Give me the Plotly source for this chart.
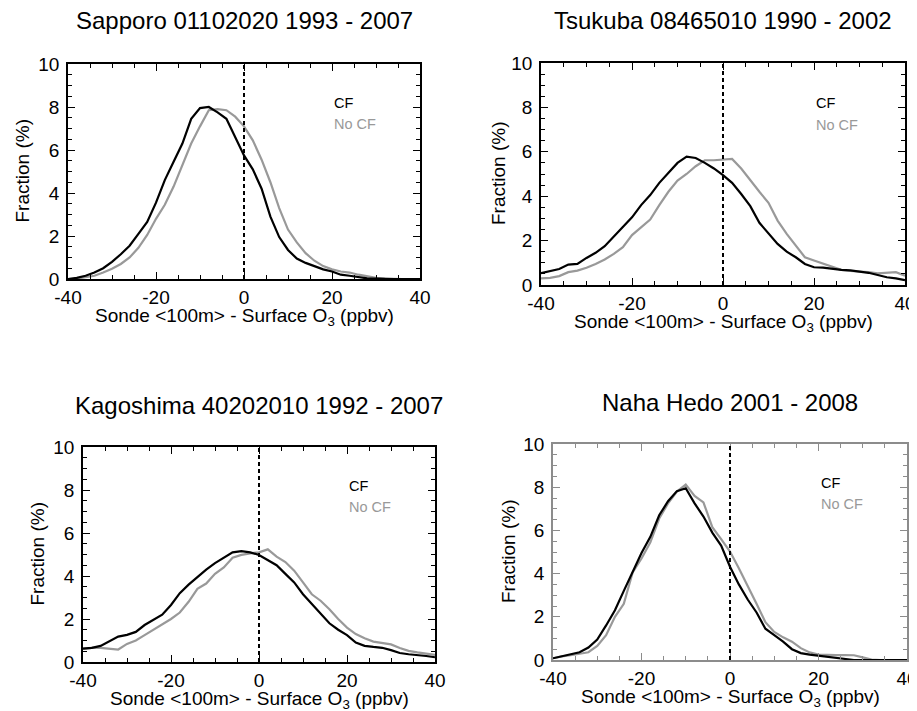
import plotly.graph_objects as go

# ---------------- data ----------------
x_bins = list(range(-40, 41, 2))

sapporo_cf = [0.0, 0.05, 0.15, 0.3, 0.5, 0.8, 1.15, 1.55, 2.1, 2.65, 3.55, 4.6, 5.45, 6.3, 7.45, 7.95,
              8.0, 7.75, 7.45, 6.6, 5.75, 5.1, 4.2, 2.9, 1.95, 1.35, 0.95, 0.75, 0.6, 0.45, 0.35, 0.2,
              0.15, 0.08, 0.03, 0.02, 0.0, 0.0, 0.0, 0.0, 0.0]
sapporo_nocf = [0.0, 0.02, 0.08, 0.15, 0.3, 0.48, 0.7, 1.0, 1.45, 2.05, 2.8, 3.45, 4.3, 5.3, 6.3, 7.1,
                7.85, 7.9, 7.85, 7.55, 7.1, 6.45, 5.55, 4.5, 3.3, 2.3, 1.7, 1.2, 0.85, 0.6, 0.45, 0.35,
                0.3, 0.2, 0.12, 0.05, 0.02, 0.0, 0.0, 0.0, 0.0]

tsukuba_cf = [0.53, 0.62, 0.72, 0.92, 0.95, 1.22, 1.45, 1.75, 2.2, 2.65, 3.05, 3.6, 4.05, 4.6, 5.05,
              5.5, 5.78, 5.72, 5.5, 5.25, 4.95, 4.6, 4.1, 3.55, 2.8, 2.3, 1.85, 1.5, 1.25, 0.95, 0.8,
              0.78, 0.72, 0.68, 0.66, 0.62, 0.55, 0.45, 0.35, 0.3, 0.22]
tsukuba_nocf = [0.3, 0.32, 0.4, 0.58, 0.65, 0.78, 0.95, 1.15, 1.4, 1.7, 2.25, 2.6, 2.95, 3.6, 4.2,
                4.7, 5.0, 5.35, 5.62, 5.62, 5.65, 5.68, 5.25, 4.7, 4.2, 3.7, 2.9, 2.3, 1.75, 1.25,
                1.1, 0.95, 0.8, 0.68, 0.63, 0.62, 0.58, 0.52, 0.55, 0.58, 0.42]

kagoshima_cf = [0.62, 0.66, 0.75, 0.95, 1.18, 1.26, 1.4, 1.72, 1.95, 2.2, 2.65, 3.2, 3.6, 3.95, 4.3,
                4.6, 4.85, 5.1, 5.16, 5.1, 4.98, 4.72, 4.5, 4.1, 3.7, 3.15, 2.7, 2.3, 1.8, 1.5, 1.25,
                0.9, 0.75, 0.7, 0.66, 0.55, 0.42, 0.36, 0.33, 0.28, 0.22]
kagoshima_nocf = [0.62, 0.66, 0.66, 0.62, 0.58, 0.84, 1.0, 1.25, 1.5, 1.75, 2.0, 2.3, 2.8, 3.4, 3.65,
                  4.1, 4.4, 4.85, 4.98, 5.05, 5.1, 5.24, 4.9, 4.65, 4.25, 3.7, 3.15, 2.85, 2.45, 2.0,
                  1.6, 1.3, 1.1, 0.95, 0.87, 0.82, 0.65, 0.52, 0.45, 0.38, 0.33]

naha_cf = [0.08, 0.17, 0.25, 0.36, 0.58, 0.95, 1.6, 2.3, 3.2, 4.1, 4.95, 5.7, 6.7, 7.35, 7.82, 7.95,
           7.25, 6.64, 5.9, 5.3, 4.32, 3.5, 2.8, 2.2, 1.45, 1.15, 0.85, 0.5, 0.32, 0.25, 0.2, 0.16,
           0.12, 0.08, 0.0, 0.0, 0.0, 0.0, 0.0, 0.0, 0.0]
naha_nocf = [0.08, 0.17, 0.22, 0.28, 0.36, 0.65, 1.15, 2.0, 2.6, 4.05, 4.7, 5.45, 6.55, 7.25, 7.8,
             8.12, 7.6, 7.3, 6.15, 5.6, 5.02, 4.25, 3.45, 2.6, 1.75, 1.3, 1.05, 0.85, 0.55, 0.35,
             0.25, 0.23, 0.23, 0.23, 0.22, 0.12, 0.02, 0.0, 0.0, 0.0, 0.0]

titles = ["Sapporo 01102020 1993 - 2007", "Tsukuba 08465010 1990 - 2002",
          "Kagoshima 40202010 1992 - 2007", "Naha Hedo 2001 - 2008"]
x_ticks = [-40, -20, 0, 20, 40]
y_ticks = [0, 2, 4, 6, 8, 10]
legend_labels = ["CF", "No CF"]
x_title = "Sonde &lt;100m&gt; - Surface O<sub>3</sub> (ppbv)"
y_title = "Fraction (%)"
ref_x = 0
legend_pos = [(20, 8.2), (20, 7.2)]

# ---------------- layout ----------------
OFF = 8                      # page body margin of the html page
W, H = 917, 711
FONT = "Liberation Sans, Arial, Helvetica, sans-serif"
CF_COLOR = "#000000"
NOCF_COLOR = "#999999"


def px_x(v):
    return (v - OFF) / W


def px_y(v):
    return 1 - (v - OFF) / H


# pixel boxes in the target picture: left, right, top, bottom
boxes = [(68, 420, 64, 279), (541, 905, 63, 285), (83, 435, 447, 662), (553, 907, 444, 660)]
frame_colors = ["#000000", "#000000", "#000000", "#8c8c8c"]
title_y = [21, 21, 405, 402]
ytitle_x = [22, 498, 37, 508]
xtitle_off = 38

series = [(sapporo_cf, sapporo_nocf), (tsukuba_cf, tsukuba_nocf),
          (kagoshima_cf, kagoshima_nocf), (naha_cf, naha_nocf)]

fig = go.Figure()
annotations = []
shapes = []
layout = dict(
    width=W, height=H, margin=dict(l=0, r=0, t=0, b=0, autoexpand=False),
    paper_bgcolor="white", plot_bgcolor="white", showlegend=False,
    font=dict(family=FONT, color="black"),
)

for i, ((cf, nocf), (l, r, t, b), fc) in enumerate(zip(series, boxes, frame_colors)):
    n = "" if i == 0 else str(i + 1)
    xa, ya = "x" + n, "y" + n
    fig.add_trace(go.Scatter(x=x_bins, y=nocf, mode="lines", xaxis=xa, yaxis=ya,
                             line=dict(color=NOCF_COLOR, width=2.2), cliponaxis=True))
    fig.add_trace(go.Scatter(x=x_bins, y=cf, mode="lines", xaxis=xa, yaxis=ya,
                             line=dict(color=CF_COLOR, width=2.2), cliponaxis=True))
    common = dict(showline=True, mirror="ticks", linecolor=fc, linewidth=1.5,
                  ticks="inside", ticklen=7, tickwidth=1.2, tickcolor=fc,
                  showgrid=False, zeroline=False, automargin=False,
                  tickfont=dict(family=FONT, size=19, color="black"))
    layout["xaxis" + n] = dict(
        domain=[px_x(l), px_x(r)], anchor=ya, range=[-40, 40],
        tickmode="array", tickvals=x_ticks, ticktext=[str(v) for v in x_ticks],
        minor=dict(ticks="inside", ticklen=4, tickcolor=fc, dtick=5, tick0=-40, showgrid=False),
        ticklabelstandoff=0, **common)
    layout["yaxis" + n] = dict(
        domain=[px_y(b), px_y(t)], anchor=xa, range=[0, 10],
        tickmode="array", tickvals=y_ticks, ticktext=[str(v) for v in y_ticks],
        minor=dict(ticks="inside", ticklen=4, tickcolor=fc, dtick=0.5, tick0=0, showgrid=False),
        ticklabelstandoff=3, **common)

    shapes.append(dict(type="line", xref=xa, yref=ya + " domain", x0=ref_x, x1=ref_x, y0=0, y1=1,
                       line=dict(color="black", width=2, dash="4px,3px")))

    annotations.append(dict(text=titles[i], xref="paper", yref="paper",
                            x=px_x((l + r) / 2), y=px_y(title_y[i]), showarrow=False,
                            xanchor="center", yanchor="middle",
                            font=dict(family=FONT, size=24, color="black")))
    annotations.append(dict(text=x_title, xref="paper", yref="paper",
                            x=px_x((l + r) / 2), y=px_y(b + xtitle_off), showarrow=False,
                            xanchor="center", yanchor="middle",
                            font=dict(family=FONT, size=19, color="black")))
    annotations.append(dict(text=y_title, xref="paper", yref="paper", textangle=-90,
                            x=px_x(ytitle_x[i]), y=px_y((t + b) / 2), showarrow=False,
                            xanchor="center", yanchor="middle",
                            font=dict(family=FONT, size=19, color="black")))
    for (lx, ly), lab, col in zip(legend_pos, legend_labels, [CF_COLOR, NOCF_COLOR]):
        annotations.append(dict(text=lab, xref=xa, yref=ya, x=lx, y=ly, showarrow=False,
                                xanchor="left", yanchor="middle",
                                font=dict(family=FONT, size=14.5, color=col)))

layout["annotations"] = annotations
layout["shapes"] = shapes
fig.update_layout(**layout)
fig.write_html("out.html")
